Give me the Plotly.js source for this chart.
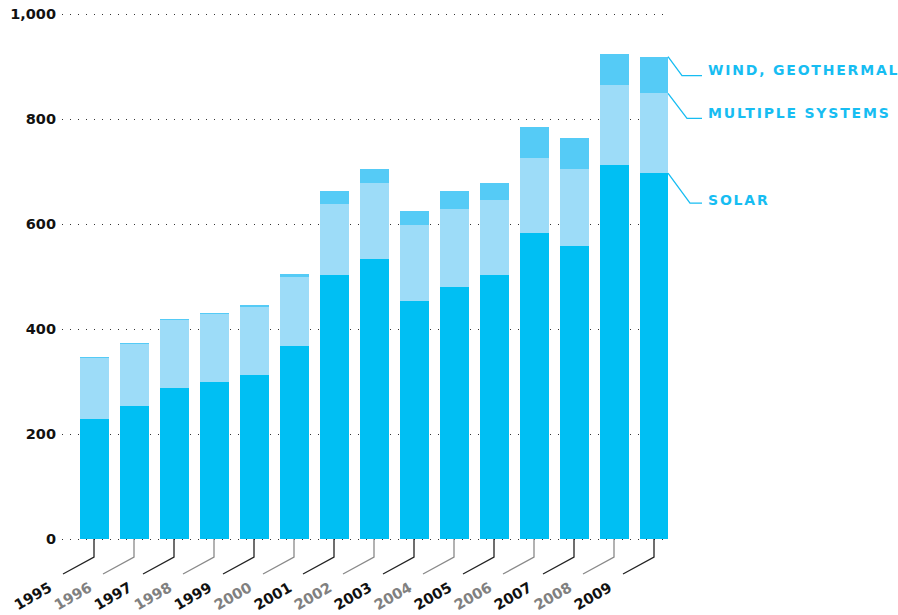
<!DOCTYPE html>
<html>
<head>
<meta charset="utf-8">
<script src="https://cdn.plot.ly/plotly-3.0.1.min.js"></script>
<style>
  html, body { margin: 0; padding: 0; background: #fff; }
  #chart { width: 898px; height: 615px; }
</style>
</head>
<body>
<div id="chart"></div>
<script>
// ---- data ----
const years = ['1995','1996','1997','1998','1999','2000','2001','2002','2003','2004','2005','2006','2007','2008','2009'];
const solar = [228, 253, 287, 299, 312, 367, 502, 533, 453, 480, 502, 582, 558, 712, 697];
const multipleSystems = [116, 118, 130, 129, 130, 133, 136, 146, 146, 148, 143, 143, 146, 152, 152];
const windGeothermal = [2, 2, 2, 2, 3, 4, 25, 25, 25, 34, 34, 59, 59, 59, 70];
const seriesNames = ['SOLAR', 'MULTIPLE SYSTEMS', 'WIND, GEOTHERMAL'];
const yTickVals = [0, 200, 400, 600, 800, 1000];
const yTickText = ['0', '200', '400', '600', '800', '1,000'];

// ---- styles ----
const colSolar = '#00bff3';
const colMulti = '#9ddcf8';
const colWind = '#55cbf6';
const colLabel = '#17bdf2';
const darkText = '#111111';
const grayText = '#808080';
const numFont = 'DejaVu Sans, sans-serif';

const xIdx = years.map((_, i) => i);   // category positions on the x axis

const barCommon = { type: 'bar', x: xIdx, width: 0.725, hoverinfo: 'skip' };
const traces = [
  Object.assign({}, barCommon, { name: seriesNames[0], y: solar, marker: { color: colSolar, line: { width: 0 } } }),
  Object.assign({}, barCommon, { name: seriesNames[1], y: multipleSystems, marker: { color: colMulti, line: { width: 0 } } }),
  Object.assign({}, barCommon, { name: seriesNames[2], y: windGeothermal, marker: { color: colWind, line: { width: 0 } } })
];

const shapes = [];
const annotations = [];
const bottomPad = 4; // px between paper bottom of plot area and the zero line

// tick leader lines + rotated year labels
years.forEach((yr, i) => {
  const dark = i % 2 === 0;
  shapes.push({
    type: 'path', xref: 'x', yref: 'paper',
    xsizemode: 'pixel', ysizemode: 'pixel', xanchor: i, yanchor: 0,
    path: 'M0,' + bottomPad + ' L0,' + (bottomPad - 18) + ' L-31,' + (bottomPad - 35),
    line: { color: dark ? '#222222' : '#8a8a8a', width: 1.3 }
  });
  annotations.push({
    xref: 'x', yref: 'paper', x: i, y: 0,
    xanchor: 'right', yanchor: 'top', xshift: -38, yshift: bottomPad - 39,
    textangle: -30, showarrow: false, borderpad: 0,
    text: yr,
    font: { family: numFont, size: 14.5, weight: 700, color: dark ? darkText : grayText }
  });
});

// series labels at the right of the last bar
const last = years.length - 1;
const segTops = [solar[last], solar[last] + multipleSystems[last], solar[last] + multipleSystems[last] + windGeothermal[last]];
const drops = [30, 25, 19];
const lifts = [3, 5, 5.5];
drops.forEach((d, k) => {
  const dx = Math.round(d * 0.74);
  shapes.push({
    type: 'path', xref: 'paper', yref: 'y',
    xsizemode: 'pixel', ysizemode: 'pixel', xanchor: 1, yanchor: segTops[k],
    path: 'M0,0 L' + dx + ',-' + d + ' L34,-' + d,
    line: { color: colLabel, width: 1.3 }
  });
  annotations.push({
    xref: 'paper', yref: 'y', x: 1, y: segTops[k],
    xanchor: 'left', yanchor: 'middle', xshift: 39, yshift: -(d - lifts[k]),
    showarrow: false, borderpad: 0,
    text: '<span style="letter-spacing:1.8px">' + seriesNames[k] + '</span>',
    font: { family: numFont, size: 14, weight: 700, color: colLabel }
  });
});

const layout = {
  width: 898, height: 615,
  margin: { l: 62, r: 230, t: 10, b: 72, pad: 0 },
  paper_bgcolor: '#ffffff', plot_bgcolor: '#ffffff',
  barmode: 'stack', bargap: 0,
  showlegend: false,
  xaxis: {
    range: [-0.8, 14.35],
    showgrid: false, zeroline: false, showline: false,
    showticklabels: false, ticks: '', fixedrange: true
  },
  yaxis: {
    range: [-7.62, 1007.62], tickvals: yTickVals, ticktext: yTickText,
    showgrid: true, gridcolor: '#333333', gridwidth: 1, griddash: '1px,7px',
    zeroline: false, showline: false, ticks: '',
    ticklabelstandoff: 5,
    tickfont: { family: numFont, size: 14.5, weight: 700, color: darkText },
    fixedrange: true
  },
  shapes: shapes,
  annotations: annotations
};

Plotly.newPlot('chart', traces, layout, { staticPlot: true, displayModeBar: false });
</script>
</body>
</html>
